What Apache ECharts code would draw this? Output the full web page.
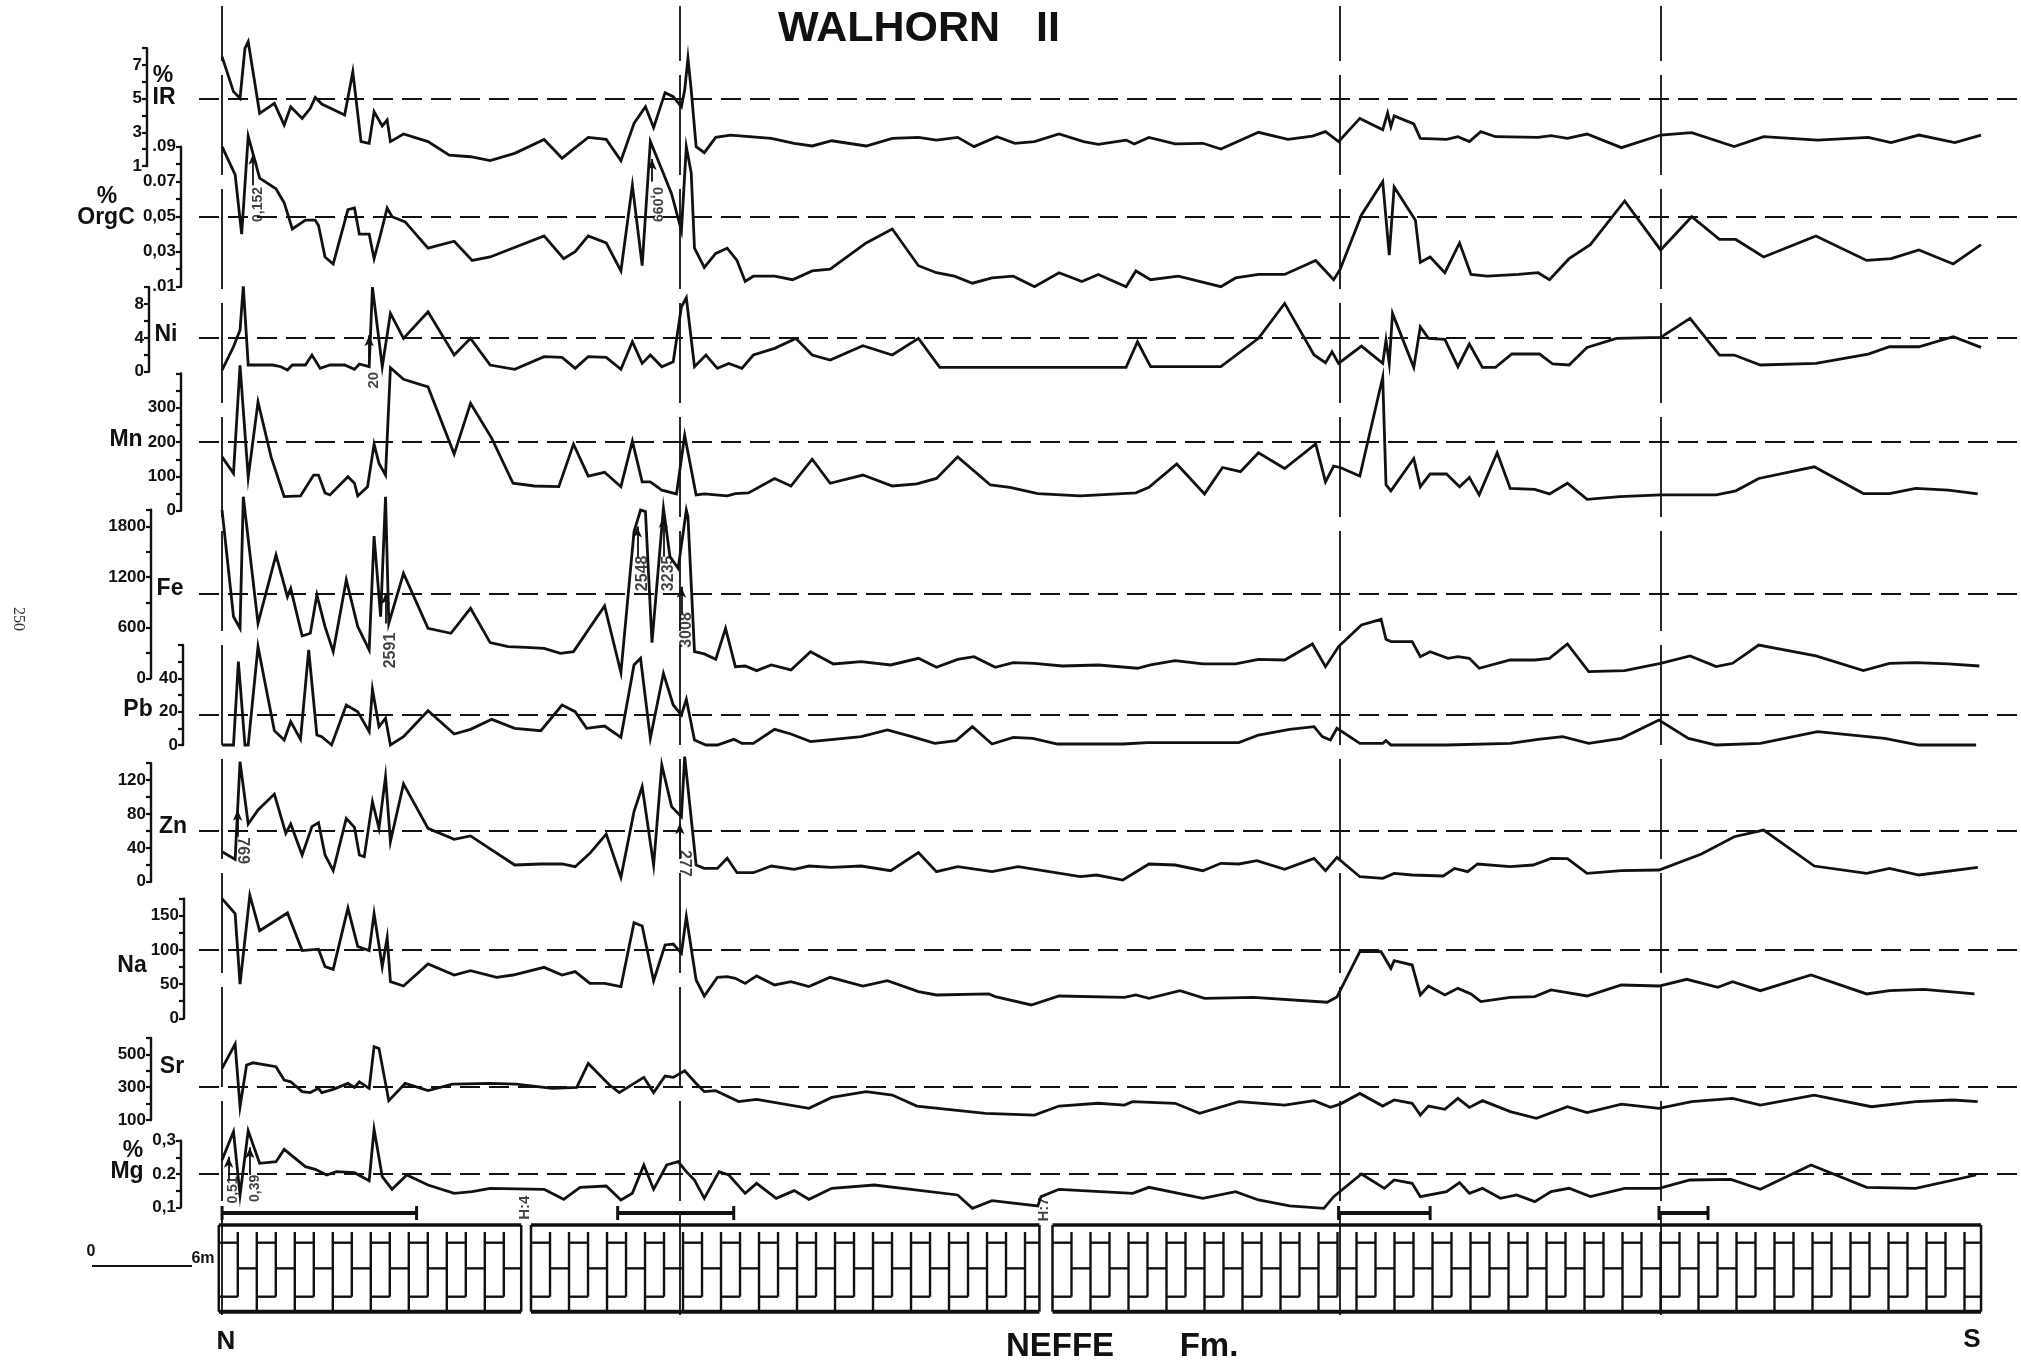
<!DOCTYPE html>
<html><head><meta charset="utf-8">
<script src="https://cdn.jsdelivr.net/npm/echarts/dist/echarts.min.js"></script>
<style>html,body{margin:0;padding:0;background:#fff}#c{width:2021px;height:1364px}</style>
</head><body><div id="c"></div>
<script>
// ---------------- DATA (distance along section in m, value) ----------------
const irData = [[0,7.5],[0.7,5.42],[1.1,5.02],[1.4,7.99],[1.6,8.39],[2.3,4.13],[3.2,4.72],[3.8,3.44],[4.2,4.52],[4.9,3.83],[5.4,4.43],[5.7,5.08],[6.1,4.68],[7.5,4.03],[8.0,6.6],[8.5,2.45],[9.0,2.35],[9.3,4.23],[9.8,3.38],[10.1,3.73],[10.3,2.45],[11.1,2.9],[12.6,2.45],[13.9,1.65],[15.2,1.55],[16.4,1.32],[17.9,1.75],[19.7,2.58],[20.8,1.46],[21.3,1.85],[22.4,2.7],[23.5,2.58],[24.4,1.32],[25.2,3.53],[25.9,4.52],[26.4,3.28],[27.1,5.36],[27.6,5.12],[28.1,4.52],[28.3,5.51],[28.5,7.4],[28.7,5.51],[29.0,2.15],[29.5,1.79],[30.2,2.7],[31.1,2.84],[33.6,2.64],[35.0,2.35],[36.1,2.19],[37.3,2.5],[39.4,2.19],[41.0,2.64],[42.6,2.7],[43.7,2.54],[45.0,2.7],[46.0,2.15],[47.4,2.74],[48.5,2.35],[49.7,2.45],[51.2,2.9],[52.7,2.45],[53.6,2.29],[55.3,2.54],[55.8,2.31],[56.7,2.7],[58.3,2.31],[60.0,2.35],[61.1,2.01],[63.4,3.0],[65.2,2.58],[66.7,2.78],[67.5,3.04],[68.3,2.45],[69.6,3.83],[71.0,3.16],[71.3,4.15],[71.5,3.34],[71.7,3.98],[72.9,3.5],[73.3,2.64],[74.9,2.58],[75.6,2.74],[76.3,2.45],[77.0,3.04],[77.9,2.74],[80.5,2.7],[81.3,2.8],[82.3,2.64],[83.5,2.9],[85.6,2.09],[88.0,2.84],[89.9,2.98],[92.5,2.15],[94.3,2.74],[97.6,2.54],[100.7,2.7],[102.1,2.39],[103.8,2.84],[106.0,2.39],[107.6,2.84]];
const orgcData = [[0,0.09],[0.8,0.074],[1.2,0.04],[1.6,0.096],[2.3,0.072],[3.3,0.066],[3.8,0.058],[4.3,0.043],[5.1,0.048],[5.7,0.048],[5.9,0.045],[6.3,0.027],[6.8,0.023],[7.7,0.054],[8.1,0.055],[8.4,0.04],[9.0,0.04],[9.3,0.026],[9.7,0.04],[10.1,0.055],[10.4,0.05],[11.2,0.047],[12.6,0.032],[14.2,0.036],[15.3,0.025],[16.4,0.027],[19.7,0.039],[20.9,0.026],[21.6,0.03],[22.4,0.039],[23.5,0.035],[24.4,0.019],[25.1,0.068],[25.7,0.022],[26.2,0.093],[26.9,0.077],[27.5,0.063],[28.1,0.042],[28.3,0.074],[28.4,0.09],[28.7,0.075],[28.9,0.032],[29.5,0.021],[30.2,0.029],[30.9,0.032],[31.5,0.025],[32.0,0.013],[32.5,0.016],[33.8,0.016],[34.9,0.014],[36.1,0.019],[37.2,0.02],[39.4,0.035],[41.0,0.043],[42.6,0.022],[43.7,0.018],[44.8,0.016],[45.9,0.012],[47.1,0.015],[48.4,0.016],[49.7,0.01],[51.2,0.018],[52.6,0.013],[53.6,0.017],[55.3,0.01],[55.9,0.019],[56.8,0.014],[58.5,0.016],[61.1,0.01],[62.0,0.015],[63.4,0.017],[65.0,0.017],[66.9,0.025],[68.0,0.014],[68.4,0.02],[69.7,0.051],[71.0,0.07],[71.4,0.028],[71.7,0.067],[73.0,0.048],[73.3,0.024],[73.9,0.027],[74.8,0.018],[75.7,0.035],[76.4,0.017],[77.4,0.016],[79.3,0.017],[80.5,0.018],[81.2,0.014],[82.4,0.026],[83.7,0.034],[85.8,0.059],[88.0,0.031],[89.9,0.05],[91.6,0.037],[92.6,0.037],[94.3,0.027],[97.5,0.039],[100.6,0.025],[102.1,0.026],[103.8,0.031],[105.9,0.023],[107.6,0.034]];
const niData = [[0,0.2],[0.7,2.95],[1.1,4.92],[1.3,10.1],[1.4,10.1],[1.6,0.79],[2.3,0.79],[3.1,0.79],[3.6,0.59],[4.0,0.2],[4.3,0.79],[5.1,0.79],[5.5,1.97],[6.0,0.39],[6.6,0.79],[7.5,0.79],[8.1,0.28],[8.4,0.91],[9.0,0.59],[9.2,10.0],[9.8,0.59],[10.3,6.89],[11.1,3.94],[12.6,7.09],[14.2,1.97],[15.2,3.94],[16.4,0.79],[17.9,0.28],[19.7,1.77],[20.8,1.69],[21.6,0.39],[22.4,1.77],[23.5,1.69],[24.4,0.28],[25.1,3.54],[25.7,0.98],[26.2,1.97],[26.9,0.59],[27.6,1.18],[28.1,7.68],[28.4,8.74],[28.9,0.59],[29.6,1.97],[30.3,0.39],[31.0,0.98],[31.8,0.39],[32.5,1.97],[33.8,2.76],[35.1,3.94],[36.1,1.97],[37.2,1.38],[39.2,3.07],[41.0,1.97],[42.6,3.94],[43.9,0.51],[55.3,0.51],[56.0,3.54],[56.8,0.59],[61.1,0.59],[63.4,3.94],[65.0,8.07],[66.8,1.97],[67.5,1.06],[67.9,2.36],[68.3,0.98],[69.7,3.03],[71.0,0.98],[71.2,3.74],[71.4,0.98],[71.6,6.89],[72.9,0.51],[73.3,5.31],[73.8,3.94],[74.8,3.82],[75.6,0.59],[76.3,3.27],[77.1,0.51],[77.9,0.51],[78.9,2.09],[80.6,2.09],[81.4,0.91],[82.4,0.79],[83.5,2.87],[85.3,3.94],[88.0,4.06],[89.8,6.3],[91.6,1.97],[92.5,1.97],[94.1,0.79],[97.5,0.98],[100.7,2.09],[102.0,2.95],[103.8,2.95],[105.9,4.13],[107.6,2.87]];
const mnData = [[0,157],[0.7,109],[1.1,424],[1.6,97],[2.2,317],[3.0,157],[3.8,41],[4.8,43],[5.6,104],[5.9,104],[6.3,52],[6.6,46],[7.7,99],[8.1,80],[8.3,43],[8.9,70],[9.3,194],[9.6,138],[10.0,104],[10.3,417],[11.1,383],[12.6,361],[14.2,165],[15.2,313],[16.5,211],[17.8,80],[19.1,72],[20.6,70],[21.5,194],[22.4,101],[23.4,112],[24.4,70],[25.1,203],[25.7,84],[26.2,84],[26.9,60],[27.8,49],[28.3,220],[29.0,46],[29.5,49],[30.9,43],[31.4,50],[32.2,52],[33.8,94],[34.8,72],[36.1,150],[37.2,80],[39.2,104],[41.0,72],[42.5,78],[43.7,94],[45.0,157],[47.0,75],[48.2,68],[49.9,50],[52.5,43],[55.9,52],[56.7,68],[58.4,136],[60.1,49],[61.2,126],[62.3,114],[63.4,169],[65.0,123],[66.9,195],[67.5,84],[68.0,130],[68.4,126],[69.6,101],[71.0,389],[71.2,76],[71.5,58],[72.9,152],[73.3,70],[73.9,107],[74.9,107],[75.7,70],[76.3,97],[76.9,46],[78.0,169],[78.8,65],[80.3,62],[81.2,49],[82.3,80],[83.5,33],[85.5,41],[88.0,46],[91.4,46],[92.6,58],[94.0,94],[97.4,128],[100.4,50],[102.0,50],[103.6,65],[105.6,60],[107.4,49]];
const feData = [[0,1996],[0.7,731],[1.1,593],[1.3,2154],[2.2,652],[3.3,1463],[4.0,968],[4.2,1067],[4.9,502],[5.4,534],[5.8,988],[6.3,613],[6.8,316],[7.6,1166],[8.3,613],[9.0,336],[9.3,1688],[9.7,731],[10.0,2154],[10.2,652],[11.1,1245],[12.6,593],[14.0,534],[15.2,830],[16.4,423],[17.5,376],[18.6,368],[19.7,356],[20.7,296],[21.5,316],[23.4,858],[24.4,67],[25.2,1739],[25.6,1996],[25.9,1977],[26.3,423],[27.0,2016],[27.4,1443],[27.9,1304],[28.4,1996],[28.5,1917],[28.9,316],[29.5,289],[30.2,225],[30.8,593],[31.4,138],[32.0,146],[32.7,91],[33.6,158],[34.8,99],[36.0,316],[37.4,170],[39.1,198],[40.9,158],[42.6,237],[43.7,130],[45.0,225],[46.0,257],[47.3,130],[48.4,186],[49.7,178],[51.4,146],[53.6,158],[56.0,119],[56.8,158],[58.3,210],[60.0,170],[62.0,170],[63.4,225],[65.0,217],[66.7,407],[67.5,138],[68.3,376],[69.7,632],[70.9,700],[71.2,462],[71.5,435],[72.8,435],[73.3,257],[73.9,316],[75.0,237],[75.6,257],[76.3,237],[76.9,119],[78.8,217],[80.3,217],[81.2,237],[82.3,407],[83.6,79],[85.8,91],[88.0,178],[89.8,265],[91.4,138],[92.4,178],[94.0,395],[97.5,265],[100.4,91],[102.0,178],[103.6,186],[105.6,170],[107.5,146]];
const pbData = [[0,0],[0.7,0],[1.0,50],[1.4,0],[1.6,0],[2.2,59],[3.2,8.6],[3.8,3],[4.2,14],[4.8,3.4],[5.3,57],[5.8,6],[6.1,5],[6.7,0],[7.6,24],[8.3,20],[9.0,8],[9.2,33.4],[9.6,11],[10.0,16],[10.3,0],[11.1,5],[12.6,20.6],[14.2,6.6],[15.2,9.4],[16.5,15.4],[17.9,10],[19.5,8.6],[20.8,24],[21.6,20],[22.3,10],[23.4,11.4],[24.4,4.6],[25.2,48],[25.6,52],[26.2,4],[27.0,43],[27.6,24],[28.1,18],[28.4,27.4],[28.9,3],[29.6,0],[30.3,0],[31.3,3.4],[31.8,1],[32.5,1],[33.8,9.4],[34.8,6.6],[36.0,2],[37.4,3.4],[39.1,5],[40.7,9],[42.2,5],[43.6,1],[44.9,2.6],[45.9,11],[47.1,0.6],[48.4,4.6],[49.6,4],[51.1,0.6],[55.1,0.6],[56.6,1.4],[60.9,1.4],[62.2,1.4],[63.4,6],[65.3,9.4],[66.8,11],[67.3,5],[67.8,3],[68.2,10],[69.6,1],[71.0,1],[71.2,2.6],[71.5,0],[74.9,0],[78.8,1],[80.5,3.4],[82.0,5],[83.6,1],[85.6,4],[87.9,15],[89.7,4],[91.4,0],[94.1,1],[97.6,8],[101.7,4],[103.8,0],[107.3,0]];
const znData = [[0,35.4],[0.8,26.4],[1.1,141.7],[1.6,68.1],[2.2,84.6],[3.2,103.5],[3.9,57.1],[4.2,68.1],[4.9,31.5],[5.5,65],[5.9,69.7],[6.3,31.5],[6.8,13],[7.6,74.8],[8.1,64.2],[8.4,31.5],[8.7,29.5],[9.2,94.5],[9.6,63],[10.0,124],[10.3,47.2],[11.1,115.4],[12.6,63],[14.2,50],[15.2,54],[17.9,19.7],[19.5,20.9],[20.8,20.9],[21.6,17.7],[22.5,33.5],[23.5,56.3],[24.4,5.1],[25.2,82.7],[25.7,112.2],[26.4,19.7],[26.9,137.8],[27.5,88.6],[28.1,76.8],[28.3,147.6],[29.0,19.7],[29.5,15.7],[30.3,15.7],[30.9,27.6],[31.5,10.6],[32.5,10.6],[33.6,18.5],[35.0,14.6],[35.9,18.5],[37.3,16.9],[39.1,18.5],[40.9,13],[42.6,34.3],[43.7,11.8],[45.0,17.7],[47.1,11.8],[48.7,17.7],[52.5,5.9],[53.5,7.9],[55.1,2],[56.7,20.9],[58.3,19.7],[60.0,13],[61.1,21.7],[62.2,20.9],[63.3,24.8],[65.0,14.6],[66.8,27.6],[67.5,13],[68.2,28.7],[69.6,5.9],[71.0,3.9],[71.7,9.8],[72.8,7.9],[74.7,6.7],[75.4,15.7],[76.2,11.8],[76.8,20.9],[78.8,17.7],[80.2,19.7],[81.3,27.6],[82.3,27.2],[83.5,9.8],[85.6,13],[87.9,13.8],[90.5,32.7],[92.5,53.1],[94.3,61],[97.4,18.5],[100.6,9.8],[102.0,15.7],[103.8,7.9],[107.4,16.9]];
const naData = [[0,175],[0.8,153],[1.1,50],[1.7,180],[2.3,128],[4.0,154],[4.9,99],[5.9,101],[6.3,75.5],[6.8,71.6],[7.7,161],[8.3,105],[9.0,99],[9.3,153],[9.8,75.5],[10.1,118],[10.3,53.6],[11.1,47.2],[12.6,79.4],[14.2,63.3],[15.2,69.7],[16.8,59.9],[17.8,63.3],[19.7,74.5],[20.8,63.3],[21.6,68.2],[22.5,51.1],[23.4,51.1],[24.4,46.3],[25.2,139.8],[25.7,134.9],[26.4,55],[27.1,107.2],[27.6,108.6],[28.1,95],[28.4,148.6],[29.0,56],[29.5,32.6],[30.3,59.9],[30.9,60.9],[31.4,58.5],[32.0,51],[32.7,62],[33.8,48.7],[34.8,53.6],[35.9,46.3],[37.2,59.9],[39.2,47.2],[40.7,55],[42.6,39],[43.7,34.1],[46.9,35.6],[47.3,31.7],[49.5,19.5],[51.2,32.6],[55.2,30.7],[55.9,34.1],[56.7,29.2],[58.6,40.4],[60.1,29.2],[63.1,30.7],[67.6,23.5],[68.2,31.2],[69.6,97.4],[70.9,97.4],[71.5,73.1],[71.7,84.3],[72.8,77.9],[73.3,34.1],[73.8,47.2],[74.8,34.1],[75.6,43.8],[76.4,35.6],[77.0,24.4],[78.8,30.7],[80.3,31.7],[81.3,41.4],[83.5,32.6],[85.6,48.7],[87.9,47.2],[89.6,57],[91.5,45.3],[92.4,53.6],[94.1,40.4],[97.2,63.3],[100.6,35.6],[102.0,40.4],[104.1,42.4],[107.2,35.6]];
const srData = [[0,415],[0.8,563],[1.1,181],[1.5,435],[1.9,449],[3.3,425],[3.8,344],[4.2,333],[4.9,273],[5.4,267],[5.9,293],[6.1,267],[6.8,287],[7.7,323],[8.1,299],[8.4,333],[9.0,293],[9.3,547],[9.6,536],[10.2,218],[11.2,323],[12.6,279],[14.1,319],[16.4,323],[18.0,319],[20.2,293],[21.7,299],[22.4,445],[23.7,313],[24.3,267],[25.8,360],[26.4,267],[27.1,368],[27.6,360],[28.3,400],[29.0,323],[29.5,273],[30.2,279],[31.6,212],[32.7,226],[35.9,171],[37.3,238],[39.4,273],[41.0,252],[42.5,185],[46.7,141],[49.7,130],[51.2,185],[53.6,202],[55.2,191],[55.7,212],[58.3,202],[59.8,141],[62.2,212],[65.0,191],[66.8,218],[67.8,177],[68.4,197],[69.6,262],[71.0,185],[71.7,222],[72.8,202],[73.3,130],[73.8,185],[74.8,165],[75.6,232],[76.3,177],[77.1,218],[78.8,151],[80.4,110],[82.3,181],[83.5,145],[85.6,197],[87.9,171],[89.9,212],[92.4,232],[94.1,191],[97.4,252],[100.9,181],[103.6,212],[105.9,222],[107.4,212]];
const mgData = [[0,0.242],[0.7,0.327],[1.1,0.137],[1.6,0.33],[2.3,0.232],[3.3,0.237],[3.8,0.274],[5.1,0.222],[5.7,0.214],[6.4,0.197],[7.0,0.207],[8.1,0.204],[9.0,0.18],[9.3,0.334],[9.8,0.192],[10.4,0.154],[11.3,0.197],[12.6,0.167],[14.2,0.142],[15.3,0.147],[16.4,0.157],[19.7,0.154],[20.9,0.124],[21.9,0.16],[23.5,0.164],[24.4,0.122],[25.1,0.142],[25.8,0.227],[26.4,0.154],[27.2,0.227],[27.9,0.237],[28.4,0.207],[28.9,0.182],[29.5,0.127],[30.4,0.207],[31.0,0.197],[32.0,0.142],[32.7,0.172],[33.9,0.127],[35.0,0.15],[35.9,0.124],[37.3,0.157],[39.9,0.167],[42.4,0.152],[45.0,0.137],[45.9,0.097],[47.1,0.12],[49.9,0.104],[50.1,0.132],[51.2,0.154],[55.7,0.142],[56.7,0.16],[60.0,0.127],[62.0,0.147],[63.4,0.122],[65.3,0.104],[67.4,0.097],[68.0,0.132],[69.7,0.2],[71.1,0.157],[71.7,0.182],[72.8,0.172],[73.3,0.132],[74.9,0.147],[75.7,0.174],[76.3,0.142],[77.1,0.157],[78.2,0.127],[79.2,0.137],[80.3,0.117],[81.3,0.147],[82.4,0.157],[83.7,0.132],[85.8,0.157],[87.9,0.157],[89.8,0.182],[92.3,0.184],[94.1,0.154],[97.2,0.227],[100.6,0.16],[103.6,0.157],[107.3,0.197]];

// reference (dashed) levels
const refLevels = {IR:5, OrgC:0.05, Ni:4, Mn:200, Fe:1000, Pb:18, Zn:60, Na:100, Sr:300, Mg:0.2};
// tick labels
const irTicks = [[1,'1'],[3,'3'],[5,'5'],[7,'7']];
const orgcTicks = [[0.01,'.01'],[0.03,'0,03'],[0.05,'0,05'],[0.07,'0.07'],[0.09,'.09']];
const niTicks = [[0,'0'],[4,'4'],[8,'8']];
const mnTicks = [[0,'0'],[100,'100'],[200,'200'],[300,'300']];
const feTicks = [[0,'0'],[600,'600'],[1200,'1200'],[1800,'1800']];
const pbTicks = [[0,'0'],[20,'20'],[40,'40']];
const znTicks = [[0,'0'],[40,'40'],[80,'80'],[120,'120']];
const naTicks = [[0,'0'],[50,'50'],[100,'100'],[150,'150']];
const srTicks = [[100,'100'],[300,'300'],[500,'500']];
const mgTicks = [[0.1,'0,1'],[0.2,'0.2'],[0.3,'0,3']];

// off-scale values written beside arrows: [x, textY, label, rotation, arrowFrom, arrowTo]
const orgcNotes = [[2.2,0.057,'0,152',90,0.068,0.086],[26.6,0.057,'0,099',-90,0.07,0.083]];
const niNotes = [[9.3,-1.0,'20',90,1.5,4.3]];
const feNotes = [[10.3,330,'2591',90,650,1010],[25.7,1245,'2548',90,1443,1800],[27.3,1245,'3235',90,1443,1917],[28.4,573,'3008',90,771,1087]];
const znNotes = [[1.25,36.6,'769',-90,53,85],[28.3,21.7,'277',-90,37,69]];
const mgNotes = [[0.7,0.152,'0,51',90,0.182,0.252],[2.0,0.157,'0,39',90,0.197,0.28]];

const sectionBreaks = [0, 28.0, 68.4, 88.0];
const lithoSegments = [[-0.2,18.3],[18.9,50.0],[50.8,107.6]];
const measureBars = [[0,11.9],[24.2,31.3],[68.3,73.9],[87.9,90.9]];
const hiatusNotes = [[18.5,1.2,'H:4'],[50.3,1.18,'H:7']];

// ---------------- LAYOUT ----------------
const INK = '#111';
const FONT = '"Liberation Sans", Arial, sans-serif';
const X_MIN = -1.41, X_MAX = 109.8;
const panels = [
  {name:'IR', data:irData, min:1, max:8, interval:1, ticks:irTicks, top:48.2, height:117.8, offset:52},
  {name:'OrgC', data:orgcData, min:0.01, max:0.09, interval:0.01, ticks:orgcTicks, top:146.7, height:140, offset:18, notes:orgcNotes, nfs:14},
  {name:'Ni', data:niData, min:0, max:10, interval:2, ticks:niTicks, top:287.1, height:84.6, offset:50, notes:niNotes, nfs:15},
  {name:'Mn', data:mnData, min:0, max:400, interval:50, ticks:mnTicks, top:373.5, height:137.2, offset:18},
  {name:'Fe', data:feData, min:0, max:2000, interval:300, ticks:feTicks, top:509.7, height:168.6, offset:48, notes:feNotes, nfs:16},
  {name:'Pb', data:pbData, min:0, max:60, interval:10, ticks:pbTicks, top:645, height:100, offset:16},
  {name:'Zn', data:znData, min:0, max:140, interval:20, ticks:znTicks, top:763.1, height:118.6, offset:48, notes:znNotes, nfs:16},
  {name:'Na', data:naData, min:0, max:175, interval:25, ticks:naTicks, top:898.6, height:119.7, offset:15},
  {name:'Sr', data:srData, min:100, max:600, interval:100, ticks:srTicks, top:1038, height:82, offset:48},
  {name:'Mg', data:mgData, min:0.1, max:0.3, interval:0.05, ticks:mgTicks, top:1140.7, height:66.6, offset:18, notes:mgNotes, nfs:14}
];

function labelFor(list, v){
  for (const t of list){ if (Math.abs(t[0]-v) < 1e-7) return t[1]; }
  return '';
}

const grids=[], xAxes=[], yAxes=[], series=[];
function addGrid(top, height){
  grids.push({left:199, right:4, top:top, height:height, containLabel:false, outerBoundsMode:'none'});
  const i = grids.length-1;
  xAxes.push({gridIndex:i, type:'value', min:X_MIN, max:X_MAX, show:false, axisLine:{onZero:false}});
  return i;
}

panels.forEach(p=>{
  const i = addGrid(p.top, p.height);
  yAxes.push({gridIndex:i, type:'value', min:p.min, max:p.max, interval:p.interval, offset:p.offset, position:'left',
    axisLine:{show:true, onZero:false, lineStyle:{color:INK, width:2.4}},
    axisTick:{show:true, inside:false, length:5, lineStyle:{color:INK, width:2.2}},
    minorTick:{show:false}, splitLine:{show:false}, splitArea:{show:false},
    axisLabel:{show:true, margin:5, color:INK, fontFamily:FONT, fontSize:17, fontWeight:'bold',
      showMinLabel:true, showMaxLabel:true, hideOverlap:false, formatter:(v)=>labelFor(p.ticks, v)}
  });
  const ml = [{yAxis: refLevels[p.name]}];
  (p.notes||[]).forEach(n=>{
    ml.push([{coord:[n[0]-0.3, n[4]], symbol:'none', lineStyle:{type:'solid', width:1.8, color:INK}},
             {coord:[n[0]-0.3, n[5]], symbol:'arrow', symbolSize:[7,11]}]);
  });
  series.push({type:'line', xAxisIndex:i, yAxisIndex:i, data:p.data, symbol:'none', showSymbol:false,
    clip:false, silent:true, animation:false, lineStyle:{color:INK, width:2.8, join:'miter'},
    markLine:{silent:true, animation:false, symbol:['none','none'], label:{show:false},
      lineStyle:{type:[20,9], width:2.2, color:INK}, data:ml}});
  if (p.notes){
    series.push({type:'scatter', xAxisIndex:i, yAxisIndex:i, symbolSize:0, clip:false, silent:true, animation:false,
      data:p.notes.map(n=>({value:[n[0], n[1]], label:{show:true, position:'inside', formatter:n[2], rotate:n[3],
        color:INK, fontFamily:FONT, fontWeight:'bold', fontSize:p.nfs}}))});
  }
});

// lithology column grid
const li = addGrid(1225, 86.7);
yAxes.push({gridIndex:li, type:'value', min:0, max:1, show:false, axisLine:{onZero:false}});
series.push({type:'custom', xAxisIndex:li, yAxisIndex:li, silent:true, animation:false, clip:false,
  data: lithoSegments,
  renderItem:function(params, api){
    const a = api.coord([api.value(0), 1]);
    const b = api.coord([api.value(1), 0]);
    const L=a[0], T=a[1], R=b[0], B=b[1], H=B-T;
    const st = {stroke:INK, lineWidth:2.4};
    const ch = [];
    const lv = [T+H*0.204, T+H*0.5, T+H*0.827];
    const step = 19;
    let xa = L, k = 0;
    while (xa < R-1){
      const xb = Math.min(xa+step, R);
      const lvls = (k%2===0) ? [lv[0], lv[2]] : [lv[1]];
      lvls.forEach(y=>ch.push({type:'line', shape:{x1:xa, y1:y, x2:xb, y2:y}, style:st}));
      if (xb < R-4){
        ch.push({type:'line', shape:{x1:xb, y1:T+7, x2:xb, y2:(k%2===0)?lv[2]:B}, style:st});
      }
      xa = xb; k++;
    }
    ch.push({type:'line', shape:{x1:L, y1:T, x2:R, y2:T}, style:{stroke:INK, lineWidth:3.5}});
    ch.push({type:'line', shape:{x1:L, y1:B, x2:R, y2:B}, style:{stroke:INK, lineWidth:4}});
    ch.push({type:'line', shape:{x1:L, y1:T, x2:L, y2:B}, style:{stroke:INK, lineWidth:2.5}});
    ch.push({type:'line', shape:{x1:R, y1:T, x2:R, y2:B}, style:{stroke:INK, lineWidth:2.5}});
    return {type:'group', children:ch};
  }});
series.push({type:'custom', xAxisIndex:li, yAxisIndex:li, silent:true, animation:false, clip:false,
  data: measureBars,
  renderItem:function(params, api){
    const a = api.coord([api.value(0), 1.138]);
    const b = api.coord([api.value(1), 1.138]);
    return {type:'group', children:[
      {type:'line', shape:{x1:a[0], y1:a[1], x2:b[0], y2:b[1]}, style:{stroke:INK, lineWidth:4}},
      {type:'line', shape:{x1:a[0], y1:a[1]-7, x2:a[0], y2:a[1]+7}, style:{stroke:INK, lineWidth:3}},
      {type:'line', shape:{x1:b[0], y1:b[1]-7, x2:b[0], y2:b[1]+7}, style:{stroke:INK, lineWidth:3}}
    ]};
  }});
series.push({type:'scatter', xAxisIndex:li, yAxisIndex:li, symbolSize:0, clip:false, silent:true, animation:false,
  data: hiatusNotes.map(n=>({value:[n[0], n[1]], label:{show:true, position:'inside', formatter:n[2], rotate:90,
    color:INK, fontFamily:FONT, fontWeight:'bold', fontSize:15}}))});

// overlay grid for vertical section lines
const oi = addGrid(6, 1309);
yAxes.push({gridIndex:oi, type:'value', min:0, max:1, show:false, axisLine:{onZero:false}});
series.push({type:'line', xAxisIndex:oi, yAxisIndex:oi, data:[[0,-5]], symbol:'none', silent:true, animation:false,
  lineStyle:{width:0},
  markLine:{silent:true, animation:false, symbol:['none','none'], label:{show:false},
    lineStyle:{type:[100,14], width:1.8, color:INK}, data: sectionBreaks.map(x=>({xAxis:x}))}});

// texts
function txt(text, x, y, size, opts){
  return Object.assign({type:'text', x:x, y:y, silent:true, z:100,
    style:{text:text, fill:INK, font:'bold '+size+'px '+FONT, align:'center', verticalAlign:'middle',
      textAlign:'center', textVerticalAlign:'middle'}}, opts||{});
}
const graphics = [
  txt('WALHORN', 889, 29, 43), txt('II', 1048, 29, 43),
  txt('%', 163, 76, 23), txt('IR', 164, 98, 23),
  txt('%', 107, 197, 23), txt('OrgC', 106, 218, 23),
  txt('Ni', 166, 335, 23), txt('Mn', 126, 440, 23), txt('Fe', 170, 589, 23),
  txt('Pb', 138, 710, 23), txt('Zn', 173, 827, 23), txt('Na', 132, 966, 23),
  txt('Sr', 172, 1067, 23), txt('%', 133, 1151, 23), txt('Mg', 127, 1172, 23),
  txt('N', 226, 1342, 26), txt('S', 1972, 1340, 26),
  txt('NEFFE', 1060, 1347, 33), txt('Fm.', 1209, 1347, 33),
  txt('0', 91, 1252, 16), txt('6m', 203, 1259, 16),
  {type:'line', silent:true, z:100, shape:{x1:92, y1:1266, x2:192, y2:1266}, style:{stroke:INK, lineWidth:2}},
  {type:'text', x:18, y:619, rotation:-Math.PI/2, silent:true, z:100,
    style:{text:'250', fill:'#333', font:'16px "Liberation Serif", serif', align:'center', verticalAlign:'middle',
      textAlign:'center', textVerticalAlign:'middle'}}
];

const chart = echarts.init(document.getElementById('c'), null, {renderer:'canvas', width:2021, height:1364});
chart.setOption({
  backgroundColor:'#fff', animation:false,
  grid:grids, xAxis:xAxes, yAxis:yAxes, series:series, graphic:graphics
});
</script></body></html>
